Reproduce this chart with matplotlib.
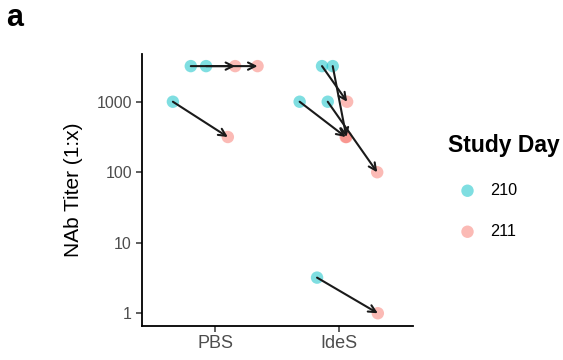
import numpy as np
import matplotlib
matplotlib.use('Agg')
import matplotlib.pyplot as plt

plt.rcParams['font.family'] = ['Liberation Sans', 'DejaVu Sans']

groups = ['PBS', 'IdeS']

# one row per animal: group index, titer on day 210 and day 211
pair_group = [0, 0, 0, 1, 1, 1, 1, 1]
titer_210 = [1000, 3200, 3200, 3200, 3200, 1000, 1000, 3.2]
titer_211 = [316, 3200, 3200, 1000, 316, 316, 100, 1]
# horizontal jitter
jitter_210 = [-0.34, -0.196, -0.073, -0.14, -0.054, -0.32, -0.094, -0.18]
jitter_211 = [0.102, 0.161, 0.341, 0.062, 0.056, 0.05, 0.304, 0.309]

days = ['210', '211']
day_colors = ['#00BFC4', '#F8766D']

fig = plt.figure(figsize=(5.63, 3.6), dpi=100)
ax = fig.add_axes([0.2517, 0.0956, 0.4812, 0.755])

x210 = np.array(pair_group) + 1 + np.array(jitter_210)
x211 = np.array(pair_group) + 1 + np.array(jitter_211)

ax.scatter(x210, titer_210, s=80, color=day_colors[0], alpha=0.5,
           edgecolors='none', label=days[0], zorder=2)
ax.scatter(x211, titer_211, s=80, color=day_colors[1], alpha=0.5,
           edgecolors='none', label=days[1], zorder=2)

for xa, ya, xb, yb in zip(x210, titer_210, x211, titer_211):
    ax.annotate('', xy=(xb, yb), xytext=(xa, ya),
                arrowprops=dict(arrowstyle='->', color='#1a1a1a', lw=1.5,
                                shrinkA=0, shrinkB=0, mutation_scale=13),
                zorder=3)

ax.set_yscale('log')
ax.set_ylim(10 ** -0.175, 10 ** 3.68)
ax.set_xlim(0.409, 2.589)
ax.set_yticks([1, 10, 100, 1000])
ax.set_yticklabels(['1', '10', '100', '1000'])
ax.minorticks_off()
ax.set_xticks([1, 2])
ax.set_xticklabels(groups)

for s in ['top', 'right']:
    ax.spines[s].set_visible(False)
for s in ['left', 'bottom']:
    ax.spines[s].set_linewidth(1.3)
    ax.spines[s].set_color('black')

ax.tick_params(axis='y', labelsize=11.5, labelcolor='#4D4D4D', length=4,
               width=1.1, color='#333333', pad=3)
ax.tick_params(axis='x', labelsize=13, labelcolor='#4D4D4D', length=4,
               width=1.1, color='#333333', pad=3)
ax.set_ylabel('NAb Titer (1:x)', fontsize=15, labelpad=10)

leg = fig.legend(loc='upper left', bbox_to_anchor=(448 / 563, 1 - 134 / 360),
                 frameon=False, title='Study Day', fontsize=11.7,
                 title_fontproperties={'weight': 'bold', 'size': 16.5},
                 alignment='left', handlelength=2.4, handletextpad=0.2,
                 labelspacing=1.6, borderpad=0, borderaxespad=0,
                 scatterpoints=1)

fig.text(0.01, 0.929, 'a', fontsize=22, fontweight='bold')

fig.savefig('out.png', dpi=100)
